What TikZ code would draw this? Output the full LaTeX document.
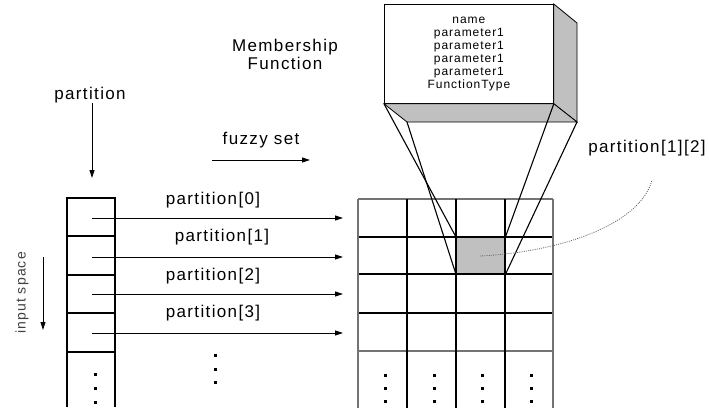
\documentclass[tikz,border=0pt]{standalone}
\usepackage{fontspec}
\setmainfont{Liberation Sans}
\newfontfamily\lblfont[LetterSpace=8]{Liberation Sans}
\usetikzlibrary{arrows.meta}
\definecolor{shade}{HTML}{C0C0C0}
\begin{document}
\begin{tikzpicture}[x=1pt,y=-1pt,
  lbl/.style={font=\fontsize{17}{19}\selectfont\lblfont, inner sep=0pt},
  small/.style={font=\fontsize{12}{13}\selectfont\lblfont, inner sep=0pt, align=center},
  arr/.style={-{Triangle[length=8pt,width=5pt]}, line width=0.8pt},
  gline/.style={line width=1.3pt},
  oline/.style={line width=1.3pt, black!55},
  dotn/.style={fill=black, minimum size=3pt, inner sep=0pt, draw=none},
  cone/.style={line width=1.1pt}]
\useasboundingbox (0,0) rectangle (709,416);

% ---- membership function box (3D) ----
\node[draw, line width=0.8pt, fill=white, minimum width=169pt, minimum height=99pt,
      anchor=north west, small] (mf) at (384,4)
  {name\\parameter1\\parameter1\\parameter1\\parameter1\\FunctionType};
\coordinate (btr) at (577,23);
\coordinate (bbr) at (577,122);
\coordinate (bbl) at (407,122);
\filldraw[fill=shade, line width=0.8pt] (mf.north east) -- (btr) -- (bbr) -- (mf.south east) -- cycle;
\filldraw[fill=shade, line width=0.8pt] (mf.south west) -- (mf.south east) -- (bbr) -- (bbl) -- cycle;

% ---- grid ----
\node[fill=shade, minimum width=49pt, minimum height=37pt, inner sep=0pt,
      anchor=north west] (cell) at (456,237) {};
\foreach \y in {237,274,313} \draw[gline] (358,\y) -- (553,\y);
\foreach \y in {199,351} \draw[oline] (358,\y) -- (553,\y);
\foreach \x in {407,456,505} \draw[gline] (\x,199) -- (\x,408);
\foreach \x in {358,553} \draw[oline] (\x,199) -- (\x,408);
\foreach \x in {385,434,482,531}
  \foreach \y in {375,388,401}
    \node[dotn] at (\x,\y) {};

% cone lines
\draw[cone] (mf.south west) -- (cell.north west);
\draw[cone] (bbl) -- (cell.south west);
\draw[cone] (mf.south east) -- (cell.north east);
\draw[cone] (bbr) -- (cell.south east);

% ---- input space column ----
\draw[gline] (67,407) -- (67,198) -- (115,198) -- (115,407);
\foreach \y in {236,275,313,352} \draw[gline] (67,\y) -- (115,\y);
\foreach \y in {374,388,402} \node[dotn] at (95,\y) {};

% arrows to grid
\foreach \i/\y in {0/218,1/257,2/294,3/333} {
  \coordinate (s\i) at (92,\y);
  \coordinate (e\i) at (343,\y);
  \draw[arr] (s\i) -- (e\i);
}
\node[lbl] (l0) at (213,200) {partition[0]};
\node[lbl] (l1) at (222,237) {partition[1]};
\node[lbl] (l2) at (213,276) {partition[2]};
\node[lbl] (l3) at (213,313) {partition[3]};
\foreach \y in {355,369,382} \node[dotn] at (215,\y) {};

% ---- other labels ----
\node[lbl] (part) at (90,95) {partition};
\coordinate (partend) at (92,178);
\draw[arr] (92,103) -- (partend);

\node[lbl] (fz) at (261,140) {fuzzy set};
\coordinate (fzs) at (212,160);
\coordinate (fze) at (310,160);
\draw[arr] (fzs) -- (fze);

\node[lbl, align=center, font=\fontsize{17}{18}\selectfont\lblfont] (mem) at (285,54) {Membership\\Function};

\node[font=\fontsize{14}{16}\selectfont\lblfont, text=black!75, inner sep=0pt, rotate=90] (inp) at (22,293) {input space};
\coordinate (ins) at (43,257);
\coordinate (ine) at (43,330);
\draw[arr] (ins) -- (ine);

\node[lbl] (p12) at (647,148) {partition[1][2]};
\coordinate (cc) at (480,256);
\draw[black!60, line width=0.8pt, dash pattern=on 1pt off 1.2pt]
  (cc) .. controls (560,252) and (640,225) .. (652,180);
\end{tikzpicture}
\end{document}
